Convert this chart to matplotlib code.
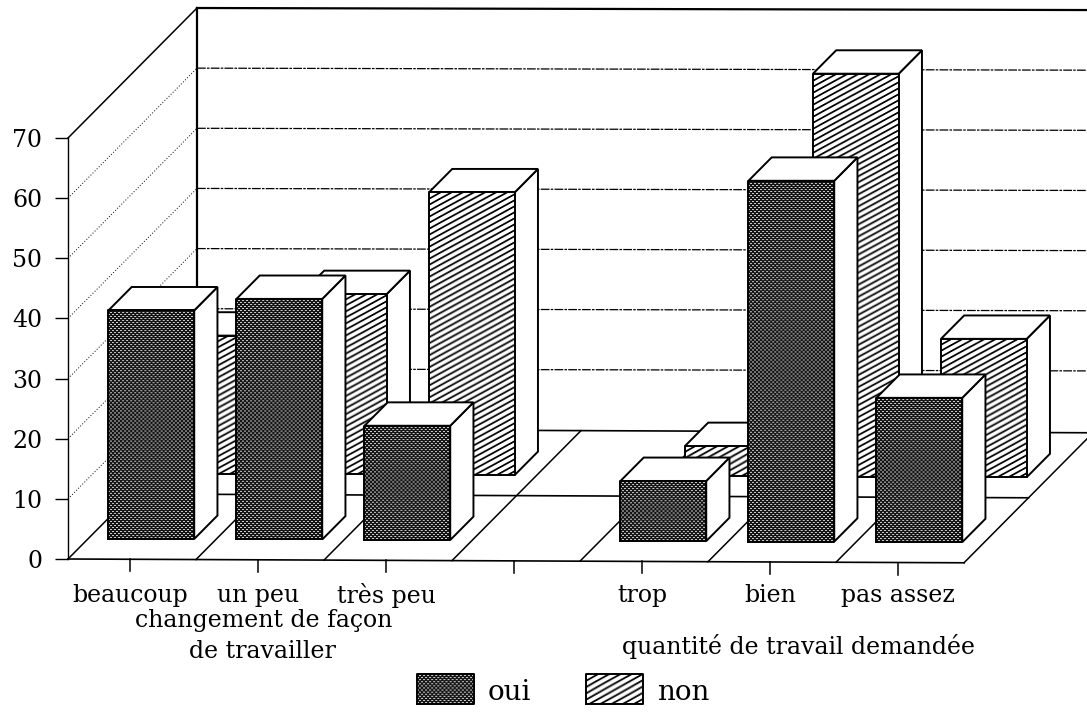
import numpy as np
import matplotlib
matplotlib.use("Agg")
import matplotlib.pyplot as plt
from matplotlib.patches import Polygon

# valeurs
categories = ["beaucoup", "un peu", "très peu", "", "trop", "bien", "pas assez"]
oui = [38, 40, 19, None, 10, 60, 24]
non = [23, 30, 47, None, 5, 67, 23]
graduations = [0, 10, 20, 30, 40, 50, 60, 70]

plt.rcParams["font.family"] = ["DejaVu Serif"]

fig = plt.figure(figsize=(10.87, 7.13), dpi=100)
ax = fig.add_axes([68 / 1087, 1 - 559 / 713, (964 - 68) / 1087, (559 - 138) / 713])
ax.patch.set_visible(False)

PX_X = 128.0  # pixels par categorie
PX_Y = 421.0 / 70  # pixels par unite
FOND_X = 129 / PX_X  # decalage du fond du plancher
FOND_Y = 130 / PX_Y
PENTE = 0.09  # le scan penche un peu
LW = 1.4


def proj(x, v, p=0.0):
    # x en categories, v en valeur, p profondeur de 0 a 1
    return x + p * FOND_X, v + p * FOND_Y - PENTE * x


def texture(genre, w, h):
    yy, xx = np.mgrid[0:h, 0:w]
    if genre == "oui":
        pts = ((xx + yy) % 4 == 0) & ((xx - yy) % 4 == 0)
        pts2 = ((xx - 1 + yy) % 4 == 0) & ((xx - 1 - yy) % 4 == 0)
        return np.where(pts | pts2, 0.8, 0.08)
    d = np.abs((yy + 0.55 * xx) % 6 - 3)
    return np.clip(2.5 - d, 0, 1)


def rect_texture(genre, x0, x1, v0, v1, z):
    w = max(int((x1 - x0) * PX_X), 1)
    h = max(int((v1 - v0) * PX_Y), 1)
    im = ax.imshow(texture(genre, w, h), extent=(x0, x1, v0, v1), cmap="gray",
                   vmin=0, vmax=1, aspect="auto", interpolation="antialiased", zorder=z)
    im.set_clip_on(False)
    ax.plot([x0, x1, x1, x0, x0], [v0, v0, v1, v1, v0], color="black", lw=LW,
            zorder=z + 0.1, clip_on=False)


def poly(points, z):
    ax.add_patch(Polygon(points, closed=True, facecolor="white", edgecolor="black",
                         lw=LW, zorder=z, clip_on=False, joinstyle="miter"))


def barre(i, valeur, genre, p0, z):
    x0 = i + 0.16
    x1 = x0 + 0.67
    xa, va = proj(x0, 0, p0)
    xb, vb = proj(x1, 0, p0)
    base = va
    top = base + valeur
    dx = 0.18 * FOND_X
    dy = 0.18 * FOND_Y
    poly([(xb, base), (xb + dx, base + dy), (xb + dx, top + dy), (xb, top)], z)
    poly([(xa, top), (xb, top), (xb + dx, top + dy), (xa + dx, top + dy)], z)
    rect_texture(genre, xa, xb, base, top, z + 0.2)


# parois
for g in graduations[1:]:
    xa, va = proj(0, g, 0)
    xb, vb = proj(0, g, 1)
    style = "-" if g == 70 else (0, (1, 2))
    ax.plot([xa, xb], [va, vb], color="black", lw=1.1 if g == 70 else 0.7, ls=style,
            clip_on=False, zorder=1)
    xc, vc = proj(8.2, g, 1)
    if g == 70:
        ax.plot([xb, xc], [vb, vb - 0.4], color="black", lw=1.6, clip_on=False, zorder=1)
    else:
        ax.plot([xb, xc], [vb, vb - 0.4], color="black", lw=0.9, ls=(0, (7, 1, 2, 1)),
                clip_on=False, zorder=1)
xb, vb = proj(0, 0, 1)
xc, vc = proj(0, 70, 1)
ax.plot([xb, xc], [vb, vc], color="black", lw=1.6, clip_on=False, zorder=1)

# plancher
for i in range(len(categories) + 1):
    xa, va = proj(i, 0, 0)
    xb, vb = proj(i, 0, 1)
    ax.plot([xa, xb], [va, vb], color="black", lw=1.1, clip_on=False, zorder=2)
for p in [0, 0.5, 1]:
    xa, va = proj(0, 0, p)
    xb, vb = proj(len(categories), 0, p)
    ax.plot([xa, xb], [va, vb], color="black", lw=1.2, clip_on=False, zorder=2)

# barres : rang du fond d'abord
for i, v in enumerate(non):
    if v is not None:
        barre(i, v, "non", 0.655, 3 + i * 0.5)
for i, v in enumerate(oui):
    if v is not None:
        barre(i, v, "oui", 0.155, 8 + i * 0.5)

# axes
ax.set_xlim(0, len(categories))
ax.set_ylim(0, 70)
ax.set_yticks(graduations)
ax.set_xticks([])
ax.tick_params(axis="y", length=9.4, width=1.0, pad=9, labelsize=17)
for nom in ["top", "right", "bottom"]:
    ax.spines[nom].set_visible(False)
ax.spines["left"].set_linewidth(1.0)

TXT = dict(ha="center", va="center", fontsize=17, clip_on=False)
for i, nom in enumerate(categories):
    xa, va = proj(i + 0.485, 0, 0)
    ax.plot([xa, xa], [va, va - 2.0], color="black", lw=1.1, clip_on=False, zorder=2)
    if nom:
        ax.text(xa, -6, nom, **TXT)

ax.text(1.53, -10.2, "changement de façon", **TXT)
ax.text(1.52, -15.4, "de travailler", **TXT)
ax.text(5.71, -14.6, "quantité de travail demandée", **TXT)

# legende
rect_texture("oui", 2.73, 3.17, -24.1, -19.1, 20)
rect_texture("non", 4.05, 4.49, -24.1, -19.2, 20)
ax.text(3.28, -22.2, "oui", ha="left", va="center", fontsize=20, clip_on=False)
ax.text(4.6, -22.2, "non", ha="left", va="center", fontsize=20, clip_on=False)

ax.set_xlim(0, len(categories))
ax.set_ylim(0, 70)
fig.savefig("out.png", dpi=100, facecolor="white")
